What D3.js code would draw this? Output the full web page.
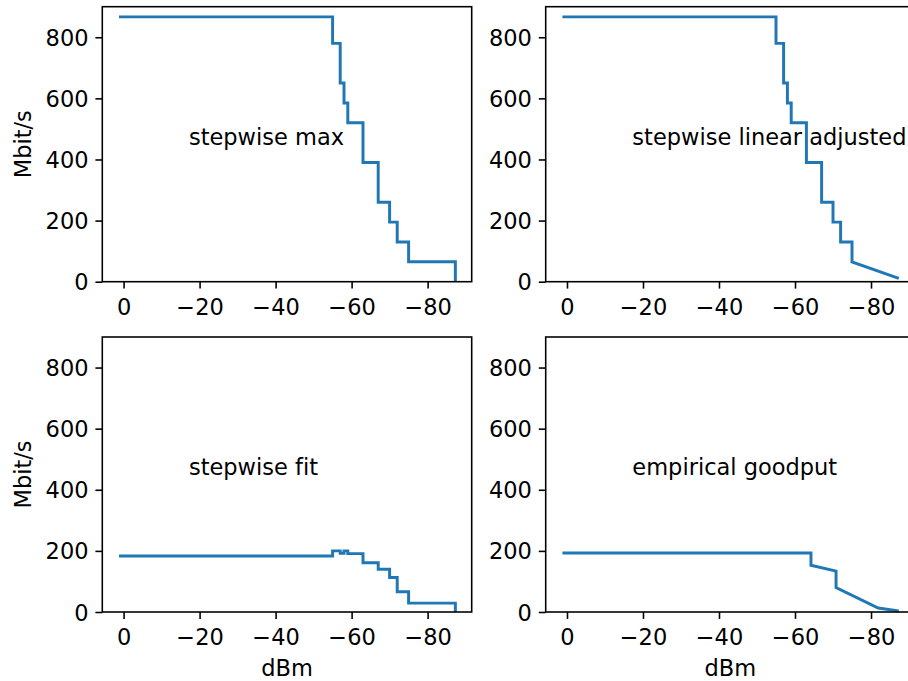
<!DOCTYPE html>
<html>
<head>
<meta charset="utf-8">
<script src="https://cdn.jsdelivr.net/npm/d3@7"></script>
<style>
  html, body { margin: 0; padding: 0; background: #fff; overflow: hidden; }
  svg { display: block; }
  text { font-family: "DejaVu Sans", sans-serif; fill: #000; font-variant-ligatures: none; font-feature-settings: "liga" 0; }
</style>
</head>
<body>
<svg id="chart" width="908" height="681"></svg>
<script>
// ---- data ----
const xStart = 1.2;
const xEnd = -87.3;
const stepX = [xStart, -55, -57, -58, -59, -63, -67, -70, -72, -75];
const maxRate = [866.7, 780, 650, 585, 520, 390, 260, 195, 130, 65];
const fitRate = [183, 200, 192, 200, 191, 161, 140, 113, 66, 29];
const linearEndRate = 11;
const goodputX = [xStart, -64.2, -64.2, -70.8, -70.8, -81.9, xEnd];
const goodputY = [193, 193, 153, 134, 80, 13, 3];
const titles = ["stepwise max", "stepwise linear adjusted", "stepwise fit", "empirical goodput"];
const xTicks = [0, -20, -40, -60, -80];
const yTicks = [0, 200, 400, 600, 800];
const labelPos = [-17.2, 448];

// ---- build series (as point lists in data units) ----
function stepPoints(xs, ys, endX, endY, dropToZero) {
  const pts = [];
  for (let i = 0; i < xs.length; i++) {
    if (i > 0) pts.push([xs[i], ys[i - 1]]);
    pts.push([xs[i], ys[i]]);
  }
  pts.push([endX, endY]);
  if (dropToZero) pts.push([endX, 0]);
  return pts;
}
const series = [
  stepPoints(stepX, maxRate, xEnd, maxRate[maxRate.length - 1], true),
  stepPoints(stepX, maxRate, xEnd, linearEndRate, false),
  stepPoints(stepX, fitRate, xEnd, fitRate[fitRate.length - 1], true),
  goodputX.map((x, i) => [x, goodputY[i]])
];

// ---- layout ----
const dpiScale = 141.9 / 72;
const fontSize = 22.5;
const W = 369.4, H = 275;
const panels = [
  { left: 102.3, top: 6.7 },
  { left: 545.7, top: 6.7 },
  { left: 102.3, top: 337 },
  { left: 545.7, top: 337 }
];
const svg = d3.select("#chart");
const color = "#1f77b4";
const spineW = 0.8 * dpiScale;
const tickLen = 3.5 * dpiScale;
const tickPad = 3.5 * dpiScale;

panels.forEach((p, i) => {
  const x = d3.scaleLinear().domain([5.6, -91.6]).range([0, W]);
  const y = d3.scaleLinear().domain([0, 900]).range([H, 0]);
  const g = svg.append("g").attr("transform", `translate(${p.left},${p.top})`);

  // line
  const line = d3.line().x(d => x(d[0])).y(d => y(d[1]));
  g.append("path")
    .datum(series[i])
    .attr("d", line)
    .attr("fill", "none")
    .attr("stroke", color)
    .attr("stroke-width", 1.5 * dpiScale)
    .attr("stroke-linejoin", "miter")
    .attr("stroke-linecap", "butt");

  // axes
  const xAxis = d3.axisBottom(x).tickValues(xTicks).tickSize(tickLen).tickPadding(tickPad)
    .tickFormat(d3.format("d"));
  const yAxis = d3.axisLeft(y).tickValues(yTicks).tickSize(tickLen).tickPadding(tickPad)
    .tickFormat(d3.format("d"));

  const gx = g.append("g").attr("transform", `translate(0,${H})`).call(xAxis);
  const gy = g.append("g").call(yAxis);
  [gx, gy].forEach(a => {
    a.select(".domain").remove();
    a.selectAll(".tick line").attr("stroke", "#000").attr("stroke-width", spineW);
    a.selectAll(".tick text").attr("font-family", "DejaVu Sans").attr("font-size", fontSize).attr("fill", "#000");
  });
  gx.selectAll(".tick text").attr("dy", null).attr("y", 33);
  gy.selectAll(".tick text").attr("dy", "0.36em");

  // spines (frame)
  g.append("rect").attr("x", 0).attr("y", 0).attr("width", W).attr("height", H)
    .attr("fill", "none").attr("stroke", "#000").attr("stroke-width", spineW);

  // annotation
  g.append("text")
    .attr("x", x(labelPos[0]))
    .attr("y", y(labelPos[1]))
    .attr("font-size", fontSize)
    .text(titles[i]);

  if (i % 2 === 0) {
    g.append("text")
      .attr("transform", `translate(${22.5 - p.left},${H / 2}) rotate(-90)`)
      .attr("text-anchor", "middle")
      .attr("dominant-baseline", "central")
      .attr("font-size", fontSize)
      .text("Mbit/s");
  }
  if (i >= 2) {
    g.append("text")
      .attr("x", W / 2)
      .attr("y", H + 64)
      .attr("text-anchor", "middle")
      .attr("font-size", fontSize)
      .text("dBm");
  }
});
</script>
</body>
</html>
